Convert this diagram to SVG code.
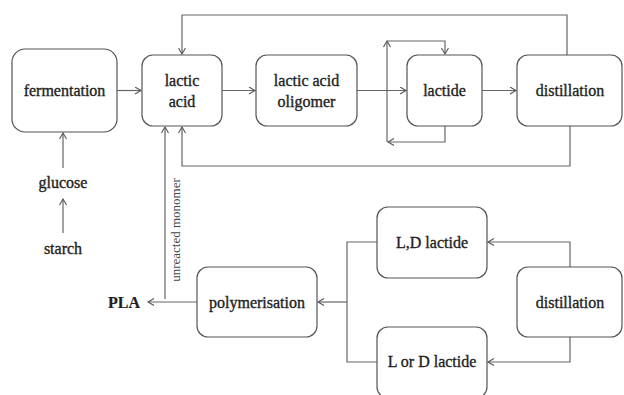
<svg xmlns="http://www.w3.org/2000/svg" width="624" height="395" viewBox="0 0 624 395">
<defs>
<marker id="arr" markerUnits="userSpaceOnUse" markerWidth="10" markerHeight="10" refX="7" refY="4" orient="auto">
<path d="M1,0.5 L7,4 L1,7.5" fill="none" stroke="#555" stroke-width="1.1"/>
</marker>
</defs>
<style>
.box{fill:#fff;stroke:#555;stroke-width:1.2}
.t{font-family:"Liberation Serif","Times New Roman",Tinos,serif;font-size:16px;fill:#1e1e1e;stroke:#1e1e1e;stroke-width:0.35;text-anchor:middle}
.b{font-weight:bold;stroke-width:0.2}
.s{font-size:13px;fill:#444;stroke:none}
.c{fill:none;stroke:#666;stroke-width:1.2}
.a{marker-end:url(#arr)}
</style>
<rect width="624" height="395" fill="#fff"/>
<g id="connectors">
<path class="c a" d="M117,90.5 H141"/>
<path class="c a" d="M222,90.5 H255"/>
<path class="c a" d="M357,90.5 H406"/>
<path class="c a" d="M482,90.5 H516"/>
<path class="c a" d="M567,55 V15 H182 V54"/>
<path class="c a" d="M570,126 V166 H182 V127"/>
<path class="c a" d="M445,126 V142 H388"/>
<path class="c a" d="M387,142 V41"/>
<path class="c a" d="M387,41 H445 V54"/>
<path class="c a" d="M63,168 V133"/>
<path class="c a" d="M63,233 V199"/>
<path class="c a" d="M165,299 V127"/>
<path class="c a" d="M197,302 H148"/>
<path class="c a" d="M570,267 V242 H488"/>
<path class="c a" d="M570,337 V362 H488"/>
<path class="c" d="M377,242 H347 V362 H377"/>
<path class="c a" d="M347,302 H318"/>
</g>
<g id="fermentation"><rect class="box" x="12" y="49" width="105" height="83" rx="13"/><text class="t" x="64.5" y="96">fermentation</text></g>
<g id="lactic-acid"><rect class="box" x="142" y="55" width="80" height="71" rx="11"/><text class="t" x="182" y="86">lactic</text><text class="t" x="182" y="107">acid</text></g>
<g id="oligomer"><rect class="box" x="256" y="55" width="101" height="71" rx="11"/><text class="t" x="306.5" y="86">lactic acid</text><text class="t" x="306.5" y="107">oligomer</text></g>
<g id="lactide"><rect class="box" x="407" y="55" width="75" height="71" rx="11"/><text class="t" x="444.5" y="96">lactide</text></g>
<g id="distillation-top"><rect class="box" x="517" y="55" width="105" height="71" rx="11"/><text class="t" x="570" y="96">distillation</text></g>
<g id="glucose"><text class="t" x="63" y="188">glucose</text></g>
<g id="starch"><text class="t" x="63" y="254">starch</text></g>
<g id="unreacted-label"><text class="t s" transform="translate(180,230) rotate(-90)">unreacted monomer</text></g>
<g id="pla"><text class="t b" x="124" y="308">PLA</text></g>
<g id="polymerisation"><rect class="box" x="197" y="267" width="120" height="70" rx="11"/><text class="t" x="257" y="308">polymerisation</text></g>
<g id="ld-lactide"><rect class="box" x="377" y="207" width="110" height="71" rx="11"/><text class="t" x="432" y="248">L,D lactide</text></g>
<g id="l-or-d-lactide"><rect class="box" x="377" y="327" width="110" height="71" rx="11"/><text class="t" x="432" y="367">L or D lactide</text></g>
<g id="distillation-bottom"><rect class="box" x="517" y="267" width="105" height="70" rx="11"/><text class="t" x="570" y="308">distillation</text></g>
</svg>
